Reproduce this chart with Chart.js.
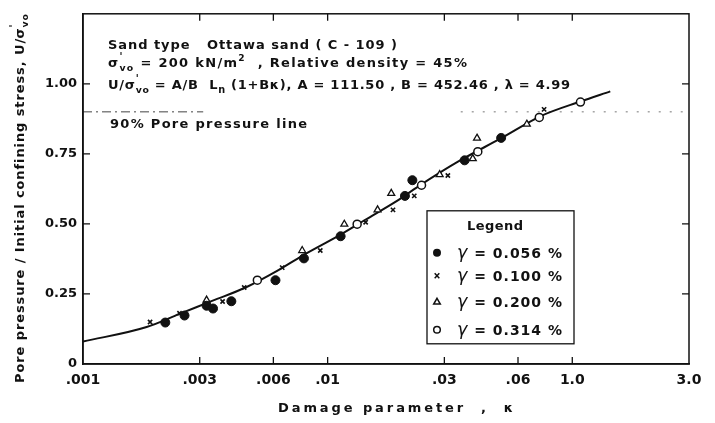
<!DOCTYPE html>
<html><head><meta charset="utf-8">
<script src="https://cdn.jsdelivr.net/npm/chart.js@4/dist/chart.umd.min.js"></script>
<style>html,body{margin:0;padding:0;background:#fff}#wrap{width:715px;height:423px}</style>
</head><body><div id="wrap"><canvas id="c" width="715" height="423"></canvas></div>
<script>
// ---------- data ----------
const xTickValues = [0.001, 0.003, 0.006, 0.01, 0.03, 0.06, 0.1, 0.3];
const xTickLabels = ['.001', '.003', '.006', '.01', '.03', '.06', '1.0', '3.0'];
const yTickValues = [0, 0.25, 0.5, 0.75, 1.0];
const yTickLabels = ['0', '0.25', '0.50', '0.75', '1.00'];

// fitted curve
const curveX = [0.001, 0.00182, 0.00248, 0.00339, 0.00462, 0.00632, 0.00787, 0.0111, 0.0142, 0.0195, 0.0234, 0.0341, 0.0512, 0.0744, 0.108, 0.143];
const curveY = [0.080, 0.132, 0.179, 0.226, 0.273, 0.336, 0.386, 0.458, 0.514, 0.586, 0.633, 0.722, 0.806, 0.885, 0.937, 0.973];

// gamma = 0.056 %  (filled circles)
const g056X = [0.00217, 0.0026, 0.0032, 0.0034, 0.00404, 0.00612, 0.0080, 0.0113, 0.0207, 0.0222, 0.0363, 0.0512];
const g056Y = [0.148, 0.173, 0.208, 0.198, 0.224, 0.299, 0.377, 0.456, 0.600, 0.656, 0.727, 0.807];
// gamma = 0.100 %  (crosses)
const g100X = [0.00188, 0.00248, 0.00372, 0.00456, 0.00652, 0.00933, 0.0143, 0.0185, 0.0226, 0.031, 0.0767];
const g100Y = [0.150, 0.181, 0.223, 0.273, 0.344, 0.405, 0.506, 0.550, 0.600, 0.673, 0.909];
// gamma = 0.200 %  (open triangles)
const g200X = [0.0032, 0.00787, 0.0117, 0.0160, 0.0182, 0.0287, 0.0392, 0.0408, 0.0652];
const g200Y = [0.228, 0.405, 0.499, 0.550, 0.609, 0.676, 0.733, 0.806, 0.856];
// gamma = 0.314 %  (open circles)
const g314X = [0.00516, 0.0132, 0.0242, 0.0411, 0.0733, 0.108];
const g314Y = [0.299, 0.499, 0.638, 0.758, 0.880, 0.935];

// 90 % pore pressure line (drawn in two visible pieces as in the scan)
const poreLevel = 0.9;
const poreLineAX = [0.001, 0.0031];
const poreLineBX = [0.035, 0.29];

const seriesLabels = ['0.056 %', '0.100 %', '0.200 %', '0.314 %'];

// ---------- helpers ----------
const INK = '#111';
const FAM = '"DejaVu Sans", "Liberation Sans", sans-serif';
const pts = (xs, ys) => xs.map((x, i) => ({x: x, y: ys[i]}));
const flat = (xs, v) => xs.map(x => ({x: x, y: v}));

function fontOf(r, base) {
  const size = base * (r.s || 1);
  return (r.it ? 'italic ' : '') + (r.nb ? '' : 'bold ') + size + 'px ' + FAM;
}
function drawRuns(ctx, runs, x, y, base, targetW) {
  ctx.save();
  ctx.letterSpacing = '0px';
  let nat = 0, n = 0;
  runs.forEach(r => {
    ctx.font = fontOf(r, base);
    r.w = ctx.measureText(r.t).width;
    if (r.adv !== false) { nat += r.w; n += [...r.t].length; }
  });
  let ls = 0, sx = 1;
  if (targetW) {
    if (nat < targetW) ls = (targetW - nat) / Math.max(1, n - 1);
    else sx = targetW / nat;
  }
  ctx.translate(x, y);
  ctx.scale(sx, 1);
  let cx = 0;
  ctx.fillStyle = INK;
  ctx.textBaseline = 'alphabetic';
  ctx.textAlign = 'left';
  runs.forEach(r => {
    ctx.font = fontOf(r, base);
    ctx.letterSpacing = ls + 'px';
    ctx.fillText(r.t, cx, (r.dy || 0));
    if (r.adv !== false) cx += r.w + ls * [...r.t].length;
  });
  ctx.restore();
}
const sigmaVo = [{t: 'σ'}, {t: "'", s: 0.75, dy: -7, adv: false}, {t: 'vo', s: 0.72, dy: 4}];

function marker(ctx, style, x, y) {
  ctx.save();
  ctx.strokeStyle = INK; ctx.fillStyle = INK; ctx.lineWidth = 1.5;
  ctx.beginPath();
  if (style === 'fill') { ctx.arc(x, y, 4, 0, Math.PI * 2); ctx.fill(); }
  else if (style === 'x') { ctx.moveTo(x - 2.3, y - 2.5); ctx.lineTo(x + 2.3, y + 2.5); ctx.moveTo(x + 2.3, y - 2.5); ctx.lineTo(x - 2.3, y + 2.5); ctx.stroke(); }
  else if (style === 'tri') { ctx.moveTo(x, y - 3.5); ctx.lineTo(x + 3.3, y + 2.3); ctx.lineTo(x - 3.3, y + 2.3); ctx.closePath(); ctx.stroke(); }
  else { ctx.arc(x, y, 3.3, 0, Math.PI * 2); ctx.stroke(); }
  ctx.restore();
}

const decor = {
  id: 'decor',
  afterDraw(chart) {
    const ctx = chart.ctx, ca = chart.chartArea;
    const xs = chart.scales.x, ys = chart.scales.y;
    ctx.save();
    // frame
    ctx.strokeStyle = INK; ctx.lineWidth = 1.5;
    ctx.strokeRect(ca.left, ca.top, ca.right - ca.left, ca.bottom - ca.top);
    // inward ticks
    ctx.lineWidth = 1.3;
    ctx.beginPath();
    xTickValues.forEach(v => {
      const px = xs.getPixelForValue(v);
      if (px <= ca.left + 1 || px >= ca.right - 1) return;
      ctx.moveTo(px, ca.bottom); ctx.lineTo(px, ca.bottom - 7);
      ctx.moveTo(px, ca.top); ctx.lineTo(px, ca.top + 7);
    });
    yTickValues.forEach(v => {
      const py = ys.getPixelForValue(v);
      if (py >= ca.bottom - 1) return;
      ctx.moveTo(ca.left, py); ctx.lineTo(ca.left + 7, py);
      ctx.moveTo(ca.right, py); ctx.lineTo(ca.right - 7, py);
    });
    ctx.stroke();
    ctx.restore();

    // annotations
    const L = ca.left + 25;
    drawRuns(ctx, [{t: 'Sand type   Ottawa sand ( C - 109 )'}], L, ca.top + 35, 13, 289);
    drawRuns(ctx, [...sigmaVo, {t: ' = 200 kN/m'}, {t: '2', s: 0.7, dy: -6}, {t: '  , Relative density = 45%'}], L, ca.top + 53, 13, 359);
    drawRuns(ctx, [{t: 'U/'}, ...sigmaVo, {t: ' = A/B  L'}, {t: 'n', s: 0.75, dy: 4}, {t: ' (1+Bκ), A = 111.50 , B = 452.46 , λ = 4.99'}], L, ca.top + 75, 13, 462);
    drawRuns(ctx, [{t: '90% Pore pressure line'}], L + 2, ca.top + 114, 13, 197);

    // axis titles
    drawRuns(ctx, [{t: 'Damage parameter  ,  κ'}], 278, 412, 13, 235);
    ctx.save();
    ctx.translate(24, 383);
    ctx.rotate(-Math.PI / 2);
    drawRuns(ctx, [{t: 'Pore pressure / Initial confining stress, U/'}, ...sigmaVo], 0, 0, 13, 369);
    ctx.restore();

    // legend box
    const bx = ca.left + 344, by = ca.top + 197, bw = 147, bh = 133;
    ctx.save();
    ctx.fillStyle = '#fff'; ctx.fillRect(bx, by, bw, bh);
    ctx.strokeStyle = INK; ctx.lineWidth = 1.3; ctx.strokeRect(bx, by, bw, bh);
    ctx.restore();
    drawRuns(ctx, [{t: 'Legend'}], bx + 40, by + 19, 13, 56);
    const styles = ['fill', 'x', 'tri', 'open'];
    const rowY = [42, 65, 91, 119];
    seriesLabels.forEach((lab, i) => {
      marker(ctx, styles[i], bx + 10, by + rowY[i]);
      drawRuns(ctx, [{t: 'γ', s: 1.25, it: true, nb: true}, {t: ' = ' + lab}], bx + 30, by + rowY[i] + 5, 14, 105);
    });
  }
};

new Chart(document.getElementById('c'), {
  data: {
    datasets: [
      {type: 'scatter', label: 'γ = 0.056 %', data: pts(g056X, g056Y), pointStyle: 'circle', pointRadius: 4.5, backgroundColor: INK, borderColor: INK, borderWidth: 1},
      {type: 'scatter', label: 'γ = 0.100 %', data: pts(g100X, g100Y), pointStyle: 'crossRot', pointRadius: 3, backgroundColor: INK, borderColor: INK, borderWidth: 1.6},
      {type: 'scatter', label: 'γ = 0.200 %', data: pts(g200X, g200Y), pointStyle: 'triangle', pointRadius: 4, backgroundColor: '#fff', borderColor: INK, borderWidth: 1.3},
      {type: 'scatter', label: 'γ = 0.314 %', data: pts(g314X, g314Y), pointStyle: 'circle', pointRadius: 4, backgroundColor: '#fff', borderColor: INK, borderWidth: 1.5},
      {type: 'line', label: 'fit', data: pts(curveX, curveY), borderColor: INK, borderWidth: 2, pointRadius: 0, cubicInterpolationMode: 'monotone', fill: false},
      {type: 'line', label: '90a', data: flat(poreLineAX, poreLevel), borderColor: '#444', borderWidth: 1, borderDash: [9, 4, 2, 4], pointRadius: 0, fill: false},
      {type: 'line', label: '90b', data: flat(poreLineBX, poreLevel), borderColor: '#777', borderWidth: 1, borderDash: [2, 9], pointRadius: 0, fill: false}
    ]
  },
  options: {
    responsive: false,
    animation: false,
    devicePixelRatio: 1,
    layout: {padding: {top: 10, right: 26, left: 0, bottom: 0}},
    plugins: {legend: {display: false}, tooltip: {enabled: false}},
    scales: {
      x: {
        type: 'logarithmic', min: 0.001, max: 0.3,
        afterBuildTicks: s => { s.ticks = xTickValues.map(v => ({value: v})); },
        afterFit: s => { s.height = 59; },
        ticks: {callback: (v, i) => xTickLabels[i], autoSkip: false, maxRotation: 0, minRotation: 0, padding: 8, color: INK, font: {family: FAM, size: 14, weight: 'bold'}},
        grid: {display: false, drawTicks: false},
        border: {display: true, color: INK, width: 1.5}
      },
      y: {
        type: 'linear', min: 0, max: 1.25,
        afterBuildTicks: s => { s.ticks = yTickValues.map(v => ({value: v})); },
        afterFit: s => { s.width = 83; },
        ticks: {callback: (v, i) => yTickLabels[i], padding: 6, color: INK, font: {family: FAM, size: 13, weight: 'bold'}},
        grid: {display: false, drawTicks: false},
        border: {display: true, color: INK, width: 1.5}
      }
    }
  },
  plugins: [decor]
});
</script>
</body></html>
